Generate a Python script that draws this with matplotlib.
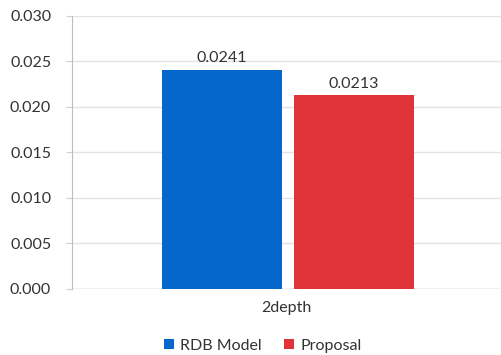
import matplotlib
matplotlib.use('Agg')
import matplotlib.pyplot as plt

categories = ['2depth']
series = ['RDB Model', 'Proposal']
values = [0.0241, 0.0213]
colors = ['#0567CB', '#E1333A']
yticks = [0.000, 0.005, 0.010, 0.015, 0.020, 0.025, 0.030]

plt.rcParams['font.family'] = ['Lato', 'DejaVu Sans']
fs = 11.5

fig = plt.figure(figsize=(5.01, 3.55), dpi=100)
ax = fig.add_axes([0.1437, 0.186, 0.8563, 0.769])

offsets = [-0.150, 0.157]
bar_w = 0.28
for off, v, c, name in zip(offsets, values, colors, series):
    ax.bar(off, v, width=bar_w, color=c, label=name, zorder=3)
    ax.text(off, v + 0.0005, f'{v:.4f}', ha='center', va='bottom',
            fontsize=fs, color='#333333')

ax.set_xlim(-0.5, 0.5)
ax.set_ylim(0, 0.030)
ax.set_yticks(yticks)
ax.set_yticklabels([f'{t:.3f}' for t in yticks], fontsize=fs, color='#333333')
ax.set_xticks([0])
ax.set_xticklabels(categories, fontsize=fs, color='#333333')
ax.tick_params(axis='x', length=0, pad=9)
ax.tick_params(axis='y', length=4, color='#cfcfcf', pad=11)
ax.grid(axis='y', color='#e3e3e3', lw=1, zorder=0)
for sp in ('top', 'right', 'bottom'):
    ax.spines[sp].set_visible(False)
ax.spines['left'].set_color('#bdbdbd')
ax.axhline(0, color='#d0d0d0', lw=1, zorder=2)

fig.legend(loc='lower center', ncol=2, frameon=False, fontsize=fs,
           bbox_to_anchor=(0.525, -0.035), handlelength=0.6, handleheight=0.6,
           handletextpad=0.4, columnspacing=1.4, labelcolor='#333333')

fig.savefig('out.png', dpi=100, facecolor='white')
